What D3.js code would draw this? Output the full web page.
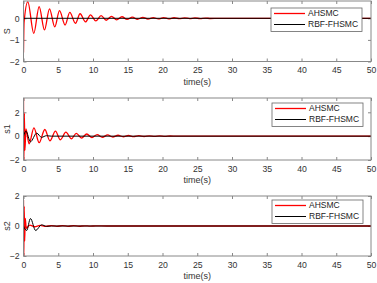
<!DOCTYPE html>
<html lang="en">
<head>
  <meta charset="UTF-8">
  <title>S, s1, s2 responses</title>
  <script src="https://cdn.jsdelivr.net/npm/d3@7"></script>
  <style>
    html, body { margin: 0; padding: 0; background: #fff; }
    svg { display: block; font-family: "Liberation Sans", Arial, sans-serif; }
    .tick text { fill: #333; font-size: 8.7px; }
    .tick line { stroke: #888; }
    .box { fill: none; stroke: #888; stroke-width: 1; }
    .lbl { fill: #333; font-size: 9px; }
    .leg { fill: #222; font-size: 8.5px; }
  </style>
</head>
<body>
<div class="chart"></div>
<script>
  // time axis ticks
  const xTicks = [0, 5, 10, 15, 20, 25, 30, 35, 40, 45, 50]
  const seriesNames = ['AHSMC', 'RBF-FHSMC']

  // panel 1: S   [time, value]
  const sAHSMC = [[0,-1.58],[0.08,-0.2],[0.62,0.76],[1.48,-0.7],[2.25,0.54],[3.02,-0.54],[3.74,0.44],[4.5,-0.4],
    [5.18,0.35],[5.99,-0.31],[6.66,0.27],[7.48,-0.23],[8.14,0.21],[8.92,-0.17],[9.64,0.16],[10.4,-0.12],
    [11.17,0.12],[11.9,-0.09],[12.67,0.09],[13.4,-0.07],[14.17,0.07],[14.9,-0.055],[15.67,0.055],[16.4,-0.045],
    [17.17,0.045],[17.9,-0.035],[18.67,0.035],[19.4,-0.03],[20.17,0.03],[20.9,-0.025],[21.67,0.025],[22.4,-0.02],
    [23.17,0.02],[23.9,-0.015],[24.67,0.015],[25.4,-0.012],[26.17,0.012],[26.9,-0.01],[28,0],[50,0]]
  const sRBF = [[0,0],[50,0]]

  // panel 2: s1
  const s1AHSMC = [[0,3.4],[0.05,-2.3],[0.12,1.9],[0.2,-1.2],[0.35,0.6],[0.8,-0.64],[1.5,0.7],[2.25,-0.55],
    [3.07,0.56],[3.8,-0.39],[4.6,0.42],[5.3,-0.3],[6.1,0.33],[6.9,-0.22],[7.6,0.24],[8.35,-0.16],[9.1,0.18],
    [9.85,-0.12],[10.6,0.13],[11.35,-0.09],[12.1,0.1],[12.85,-0.07],[13.6,0.075],[14.35,-0.05],[15.1,0.055],
    [15.85,-0.04],[16.6,0.04],[17.35,-0.03],[18.1,0.03],[18.85,-0.025],[19.6,0.02],[20.35,-0.015],[21.1,0.015],
    [22,0],[50,0]]
  const s1RBF = [[0,0],[0.35,0.42],[1.0,-0.47],[1.9,0.25],[2.6,-0.1],[3.3,0.04],[4,0],[50,0]]

  // panel 3: s2
  const s2AHSMC = [[0,1.74],[0.04,-2.3],[0.1,1.3],[0.17,-1.0],[0.25,0.5],[0.4,-0.15],[0.9,0.06],[1.6,-0.05],
    [2.4,0.04],[3.2,-0.03],[4.0,0.03],[4.8,-0.025],[5.6,0.025],[6.4,-0.02],[7.2,0.02],[8,-0.015],[8.8,0.015],
    [9.6,-0.01],[10.4,0.01],[12,0],[50,0]]
  const s2RBF = [[0,0],[0.45,-0.3],[1.0,0.5],[1.75,-0.3],[2.6,0.08],[3.3,-0.02],[4,0],[50,0]]

  const yTicks1 = [-2, -1, 0]
  const yTicks2 = [-2, 0, 2]
  const yTicks3 = [-2, 0, 2]

  const width = 377, height = 283
  const left = 23.5, right = 371

  const panels = [
    { name: 'S',  top: 1,  bottom: 61.5, dom: [-2, 0.8], ticks: yTicks1, red: sAHSMC,  black: sRBF,  leg: [271, 8] },
    { name: 's1', top: 98, bottom: 160,  dom: [-2, 3.2], ticks: yTicks2, red: s1AHSMC, black: s1RBF, leg: [272, 103] },
    { name: 's2', top: 196, bottom: 256, dom: [-2, 2],   ticks: yTicks3, red: s2AHSMC, black: s2RBF, leg: [272, 200] }
  ]

  const svg = d3.select('.chart').append('svg')
    .attr('width', width)
    .attr('height', height)

  const x = d3.scaleLinear().domain([0, 50]).range([left, right])
  const fmt = d3.format('d')

  panels.forEach(function (p, idx) {
    const y = d3.scaleLinear().domain(p.dom).range([p.bottom, p.top])
    const g = svg.append('g')

    svg.append('clipPath').attr('id', 'clip' + idx)
      .append('rect')
      .attr('x', left).attr('y', p.top)
      .attr('width', right - left).attr('height', p.bottom - p.top)

    // axes, ticks pointing inward
    g.append('g').attr('transform', 'translate(0,' + p.bottom + ')')
      .call(d3.axisBottom(x).tickValues(xTicks).tickFormat(fmt).tickSize(-3).tickPadding(5.5))
    g.append('g').attr('transform', 'translate(0,' + p.top + ')')
      .call(d3.axisTop(x).tickValues(xTicks).tickSize(-3).tickFormat(''))
    g.append('g').attr('transform', 'translate(' + left + ',0)')
      .call(d3.axisLeft(y).tickValues(p.ticks).tickFormat(fmt).tickSize(-3).tickPadding(4))
    g.append('g').attr('transform', 'translate(' + right + ',0)')
      .call(d3.axisRight(y).tickValues(p.ticks).tickSize(-3).tickFormat(''))
    g.selectAll('.domain').remove()
    g.selectAll('.tick text').attr('font-family', null).attr('font-size', null)

    const line = d3.line()
      .x(d => x(d[0]))
      .y(d => y(d[1]))
      .curve(d3.curveMonotoneX)

    const plot = g.append('g').attr('clip-path', 'url(#clip' + idx + ')')
    plot.append('path').datum(p.red)
      .attr('d', line).attr('fill', 'none')
      .attr('stroke', '#ff0000').attr('stroke-width', 1.3)
    plot.append('path').datum(p.black)
      .attr('d', line).attr('fill', 'none')
      .attr('stroke', '#000').attr('stroke-width', 1)

    g.append('rect').attr('class', 'box')
      .attr('x', left).attr('y', p.top)
      .attr('width', right - left).attr('height', p.bottom - p.top)

    // labels
    g.append('text').attr('class', 'lbl')
      .attr('x', (left + right) / 2).attr('y', p.bottom + 23)
      .attr('text-anchor', 'middle')
      .text('time(s)')
    g.append('text').attr('class', 'lbl')
      .attr('transform', 'translate(7,' + (p.top + p.bottom) / 2 + ') rotate(-90)')
      .attr('text-anchor', 'middle').attr('dy', '0.35em')
      .text(p.name)

    // legend
    const lg = g.append('g').attr('transform', 'translate(' + p.leg[0] + ',' + p.leg[1] + ')')
    lg.append('rect').attr('width', 91).attr('height', 23.5)
      .attr('fill', '#fff').attr('stroke', '#666').attr('stroke-width', 0.8)
    seriesNames.forEach(function (n, i) {
      const yy = 5.5 + i * 11
      lg.append('line').attr('x1', 3).attr('x2', 34).attr('y1', yy).attr('y2', yy)
        .attr('stroke', i === 0 ? '#ff0000' : '#000').attr('stroke-width', i === 0 ? 1.3 : 1)
      lg.append('text').attr('class', 'leg')
        .attr('x', 37).attr('y', yy).attr('dy', '0.35em')
        .text(n)
    })
  })
</script>
</body>
</html>
